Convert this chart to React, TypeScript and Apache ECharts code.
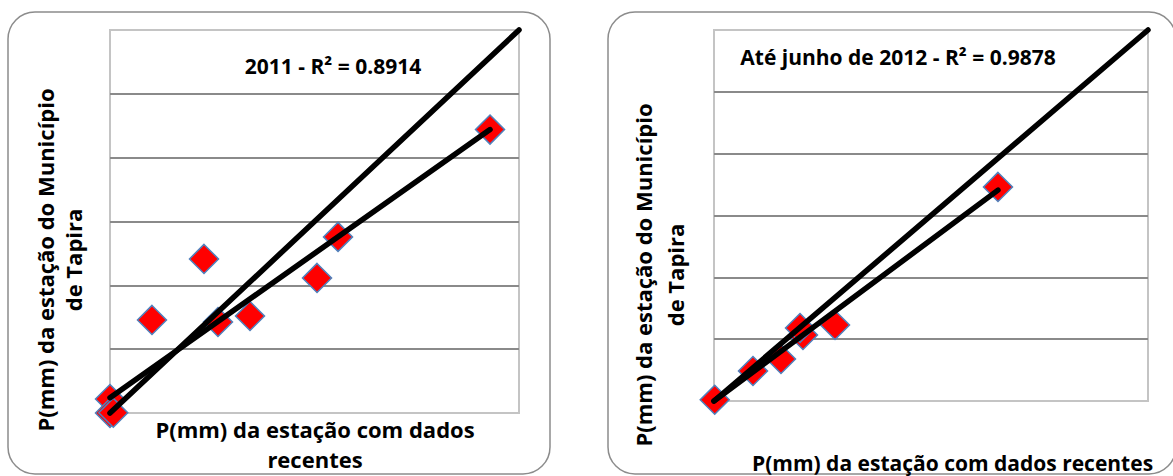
import React, { useEffect, useRef } from "react";
import * as echarts from "echarts";

// Axis range (hidden axes, same scale on both)
const axisMax = 600;
const axisStep = 100;

// 2011 chart data
const x2011 = [0, 0, 4.8, 61.6, 137.9, 158.4, 205.4, 303.7, 334.5, 557.5];
const y2011 = [22, 0, 0.5, 145.8, 241.4, 142.6, 152, 211.6, 275.9, 444];
const trend2011X = [0, 557.5];
const trend2011Y = [24, 444];

// Até junho de 2012 chart data
const x2012 = [1, 53.9, 92.6, 123, 118.9, 167.3, 392.6];
const y2012 = [2, 48.5, 67.9, 106.7, 118.1, 122.9, 346.2];
const trend2012X = [0, 392.6];
const trend2012Y = [0, 341];

// 1:1 reference line
const identityX = [0, 600];
const identityY = [0, 600];

const label2011 = "2011 - R² = 0.8914";
const label2012 = "Até junho de 2012 - R² = 0.9878";
const yTitle = "P(mm) da estação do Município\nde Tapira";
const xTitle2011 = "P(mm) da estação com dados\nrecentes";
const xTitle2012 = "P(mm) da estação com dados recentes";

const FONT = "'Open Sans', sans-serif";

function pairs(xs: number[], ys: number[]) {
  return xs.map((x, i) => [x, ys[i]]);
}

export default function App() {
  const ref = useRef<HTMLDivElement>(null);
  useEffect(() => {
    if (!ref.current) return;
    const chart = echarts.init(ref.current, null, { renderer: "svg" });

    const grids = [
      { left: 110, top: 30, width: 409, height: 383 },
      { left: 714, top: 30, width: 434, height: 371 },
    ].map((g) => ({
      ...g,
      show: true,
      borderColor: "#C4C4C4",
      borderWidth: 2,
      backgroundColor: "transparent",
      outerBoundsMode: "none",
      containLabel: false,
    }));

    const xAxes = [0, 1].map((i) => ({
      type: "value",
      gridIndex: i,
      min: 0,
      max: axisMax,
      interval: axisStep,
      axisLine: { show: false },
      axisTick: { show: false },
      axisLabel: { show: false },
      splitLine: { show: false },
    }));
    const yAxes = [0, 1].map((i) => ({
      type: "value",
      gridIndex: i,
      min: 0,
      max: axisMax,
      interval: axisStep,
      axisLine: { show: false },
      axisTick: { show: false },
      axisLabel: { show: false },
      splitLine: {
        show: true,
        showMinLine: false,
        showMaxLine: false,
        lineStyle: { color: "#8A8A8A", width: 2 },
      },
    }));

    const scatterStyle = {
      type: "scatter",
      symbol: "diamond",
      symbolSize: 29,
      clip: false,
      z: 2,
      itemStyle: { color: "#FF0000", borderColor: "#4F81BD", borderWidth: 1.5, opacity: 1 },
    };
    const lineStyle = {
      type: "line",
      symbol: "none",
      clip: false,
      z: 3,
      lineStyle: { color: "#000000", width: 5.5, cap: "round" },
    };

    const series: any[] = [
      { ...scatterStyle, xAxisIndex: 0, yAxisIndex: 0, data: pairs(x2011, y2011) },
      { ...lineStyle, xAxisIndex: 0, yAxisIndex: 0, data: pairs(trend2011X, trend2011Y) },
      { ...lineStyle, xAxisIndex: 0, yAxisIndex: 0, data: pairs(identityX, identityY) },
      { ...scatterStyle, xAxisIndex: 1, yAxisIndex: 1, data: pairs(x2012, y2012) },
      { ...lineStyle, xAxisIndex: 1, yAxisIndex: 1, data: pairs(trend2012X, trend2012Y) },
      { ...lineStyle, xAxisIndex: 1, yAxisIndex: 1, data: pairs(identityX, identityY) },
    ];

    const textStyle = (text: string, size: number, lh: number) => ({
      text,
      font: `bold ${size}px ${FONT}`,
      fill: "#000000",
      textAlign: "center",
      textVerticalAlign: "middle",
      lineHeight: lh,
    });

    const graphic: any[] = [
      {
        type: "rect",
        z: 0,
        shape: { x: 8, y: 12, width: 542, height: 462, r: 27 },
        style: { fill: "none", stroke: "#8C8C8C", lineWidth: 1.5 },
      },
      {
        type: "rect",
        z: 0,
        shape: { x: 608, y: 12, width: 568, height: 462, r: 27 },
        style: { fill: "none", stroke: "#8C8C8C", lineWidth: 1.5 },
      },
      { type: "text", x: 333, y: 66, z: 10, style: textStyle(label2011, 21, 26) },
      { type: "text", x: 898, y: 57, z: 10, style: textStyle(label2012, 21, 26) },
      { type: "text", x: 59, y: 260, rotation: Math.PI / 2, z: 10, style: textStyle(yTitle, 22, 28) },
      { type: "text", x: 659, y: 275, rotation: Math.PI / 2, z: 10, style: textStyle(yTitle, 22, 32) },
      { type: "text", x: 315, y: 444, z: 10, style: textStyle(xTitle2011, 22, 30) },
      {
        type: "text",
        x: 752,
        y: 463,
        z: 10,
        style: { ...textStyle(xTitle2012, 21, 26), textAlign: "left" },
      },
    ];

    chart.setOption({
      animation: false,
      backgroundColor: "#FFFFFF",
      grid: grids,
      xAxis: xAxes,
      yAxis: yAxes,
      series,
      graphic,
    });
    return () => chart.dispose();
  }, []);

  return (
    <div
      ref={ref}
      style={{ position: "fixed", left: 0, top: 0, width: 1173, height: 476 }}
    />
  );
}
